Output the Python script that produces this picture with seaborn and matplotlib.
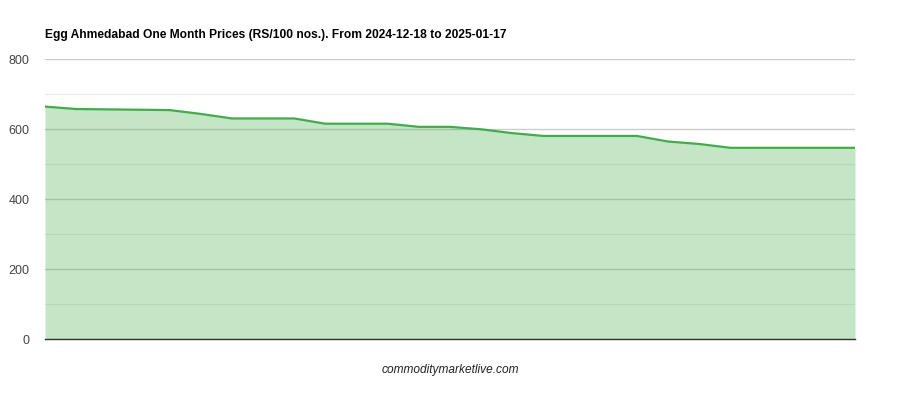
import matplotlib
matplotlib.use('Agg')
from matplotlib import pyplot as plt
from matplotlib.ticker import MultipleLocator
import seaborn as sns
import pandas as pd

# egg prices, one value per trading day
prices = [665, 658, 657, 656, 655, 644, 631, 631, 631, 616, 616, 616, 607, 607,
          600, 589, 581, 581, 581, 581, 565, 558, 547, 547, 547, 547, 547]
title = 'Egg Ahmedabad One Month Prices (RS/100 nos.). From 2024-12-18 to 2025-01-17'
footer = 'commoditymarketlive.com'
y_ticks = [0, 200, 400, 600, 800]

df = pd.DataFrame({'day': range(len(prices)), 'price': prices})

sns.set_style('white')
plt.rcParams['font.family'] = ['Liberation Sans', 'DejaVu Sans']

fig = plt.figure(figsize=(9, 4), dpi=100)
ax = fig.add_axes([0.05, 0.1525, 0.9, 0.699])

line_color = '#3eaf48'
ax.fill_between(df['day'], df['price'], 0, color=line_color, alpha=0.3, lw=0, zorder=3)
sns.lineplot(data=df, x='day', y='price', ax=ax, color=line_color, lw=1.6, zorder=4)

ax.set_xlim(0, len(prices) - 1)
ax.set_ylim(0, 800)
ax.set_yticks(y_ticks)
ax.yaxis.set_minor_locator(MultipleLocator(100))
ax.grid(axis='y', which='major', color='#cccccc', lw=1, zorder=1)
ax.grid(axis='y', which='minor', color='#ebebeb', lw=1, zorder=1)
ax.set_axisbelow(True)
ax.set_xticks([])
ax.tick_params(axis='y', which='both', length=0, labelsize=9, colors='#444444', pad=11)
ax.set_xlabel('')
ax.set_ylabel('')
for s in ['top', 'right', 'left']:
    ax.spines[s].set_visible(False)
ax.spines['bottom'].set_color('#333333')
ax.spines['bottom'].set_linewidth(1)
ax.spines['bottom'].set_zorder(5)

fig.text(45 / 900, 1 - 35 / 400, title, fontsize=8.65, fontweight='bold', color='#000000',
         va='center', ha='left')
fig.text(0.5, 1 - 370 / 400, footer, fontsize=8.6, style='italic', color='#222222',
         va='center', ha='center')

plt.savefig('out.png', dpi=100)
